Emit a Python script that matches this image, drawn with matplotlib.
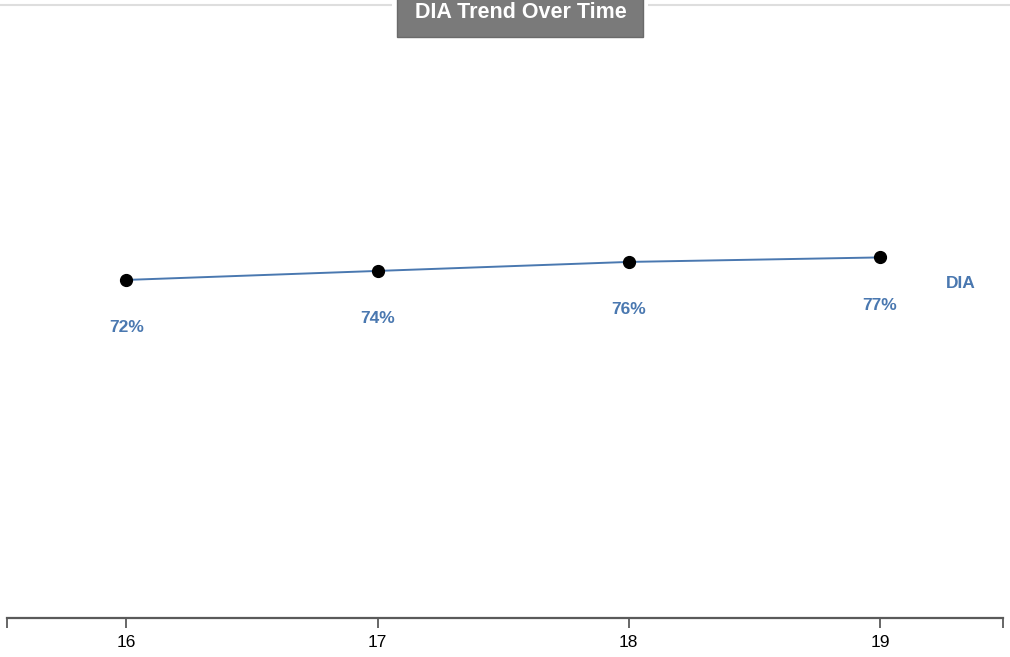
import matplotlib.pyplot as plt
from matplotlib.patches import Rectangle
from matplotlib.lines import Line2D

years = [16, 17, 18, 19]
dia_pct = [72, 74, 76, 77]
tick_labels = ['16', '17', '18', '19']
series_name = 'DIA'
title = 'DIA Trend Over Time'

W, H = 1010, 657
line_color = '#4a78b0'
label_color = '#4a78b0'

plt.rcParams['font.family'] = ['Liberation Sans', 'DejaVu Sans']

fig = plt.figure(figsize=(W / 100, H / 100), dpi=100)
ax = fig.add_axes([7 / W, 1 - 618 / H, 996 / W, 578 / H])

ax.plot(years, dia_pct, color=line_color, lw=1.4, zorder=2)
ax.plot(years, dia_pct, 'o', color='black', ms=8.5, zorder=3)

for x, v in zip(years, dia_pct):
    ax.annotate(f'{v}%', (x, v), xytext=(0, -48), textcoords='offset pixels',
                ha='center', va='center', color=label_color,
                fontsize=12.5, fontweight='bold')

# series name to the right of the last point
ax.annotate(series_name, (years[-1], dia_pct[-1]), xytext=(81, -26),
            textcoords='offset pixels', ha='center', va='center',
            color=label_color, fontsize=12.5, fontweight='bold')

x0, x1 = 15.525, 19.49
ax.set_xlim(x0, x1)
ax.set_ylim(-3.1, 125.3)

for s in ['left', 'right', 'top']:
    ax.spines[s].set_visible(False)
ax.spines['bottom'].set_color('#5a5a5a')
ax.spines['bottom'].set_linewidth(1.6)
ax.set_yticks([])
ax.set_xticks(years)
ax.set_xticklabels(tick_labels)
ax.set_xticks([x0, x1], minor=True)
ax.tick_params(axis='x', which='both', direction='out', length=7, width=1.3,
               color='#5a5a5a', labelsize=12.5, pad=5)
ax.patch.set_alpha(0)

# faint frame line along the top, broken by the title box
fig.add_artist(Line2D([0, 1], [1 - 5 / H, 1 - 5 / H], transform=fig.transFigure,
                      color='#dedede', lw=1.5, zorder=0))
fig.add_artist(Rectangle((392 / W, 1 - 40 / H), 256 / W, 40 / H,
                         transform=fig.transFigure, facecolor='white',
                         edgecolor='none', zorder=1))
fig.add_artist(Rectangle((397 / W, 1 - 37 / H), 246 / W, 40 / H,
                         transform=fig.transFigure, facecolor='#7a7a7a',
                         edgecolor='#6a6a6a', lw=1, zorder=2))
fig.text(521 / W, 1 - 13 / H, title, ha='center', va='center', color='white',
         fontsize=15.5, fontweight='bold', zorder=3)

fig.savefig('out.png', dpi=100, facecolor='white')
